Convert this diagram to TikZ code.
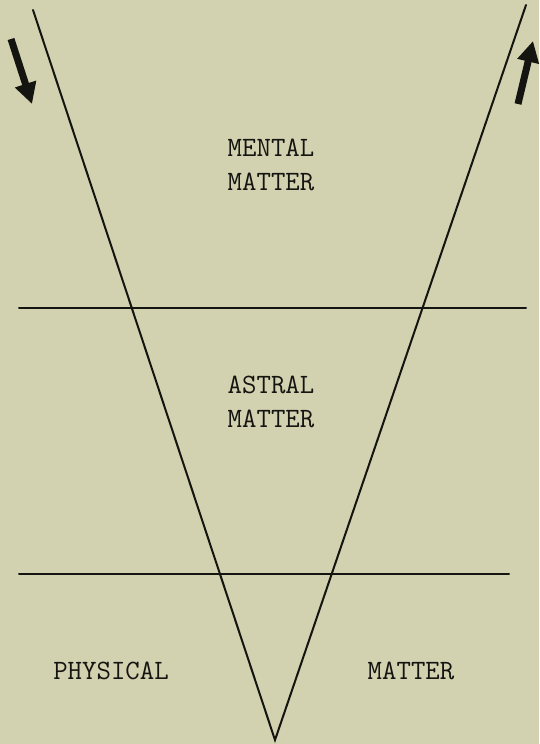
\documentclass[tikz,border=0pt]{standalone}
\usepackage{tikz,xcolor}
\usetikzlibrary{arrows.meta}
\definecolor{paper}{HTML}{D2D1B0}
\definecolor{ink}{HTML}{141410}
\tikzset{
  lbl/.style={text=ink,align=center,inner sep=0pt,font=\fontsize{28}{34}\selectfont\ttfamily},
  ln/.style={draw=ink,line width=2pt,line cap=round},
  ar/.style={draw=ink,line width=7pt,-{Triangle[length=21pt,width=21pt]}},
}

\begin{document}
\begin{tikzpicture}[x=1pt,y=-1pt]
\useasboundingbox[fill=paper] (0,0) rectangle (539,744);
\coordinate (ltop) at (33,10);
\coordinate (vtx) at (275,740);
\coordinate (rtop) at (526,5);
\coordinate (upl) at (19,308);
\coordinate (upr) at (526,308);
\coordinate (lol) at (19,574);
\coordinate (lor) at (509,574);
\coordinate (dnA) at (11,39);
\coordinate (dnB) at (32,104);
\coordinate (upA) at (518,104);
\coordinate (upB) at (533,41);
\draw[ln] (ltop) -- (vtx) -- (rtop);
\draw[ln] (upl) -- (upr);
\draw[ln] (lol) -- (lor);
\draw[ar] (dnA) -- (dnB);
\draw[ar] (upA) -- (upB);
\node[lbl] (mental) at (271,165) {MENTAL\\MATTER};
\node[lbl] (astral) at (271,402) {ASTRAL\\MATTER};
\node[lbl] (phys) at (111,671) {PHYSICAL};
\node[lbl] (matter) at (411,671) {MATTER};
\end{tikzpicture}
\end{document}
